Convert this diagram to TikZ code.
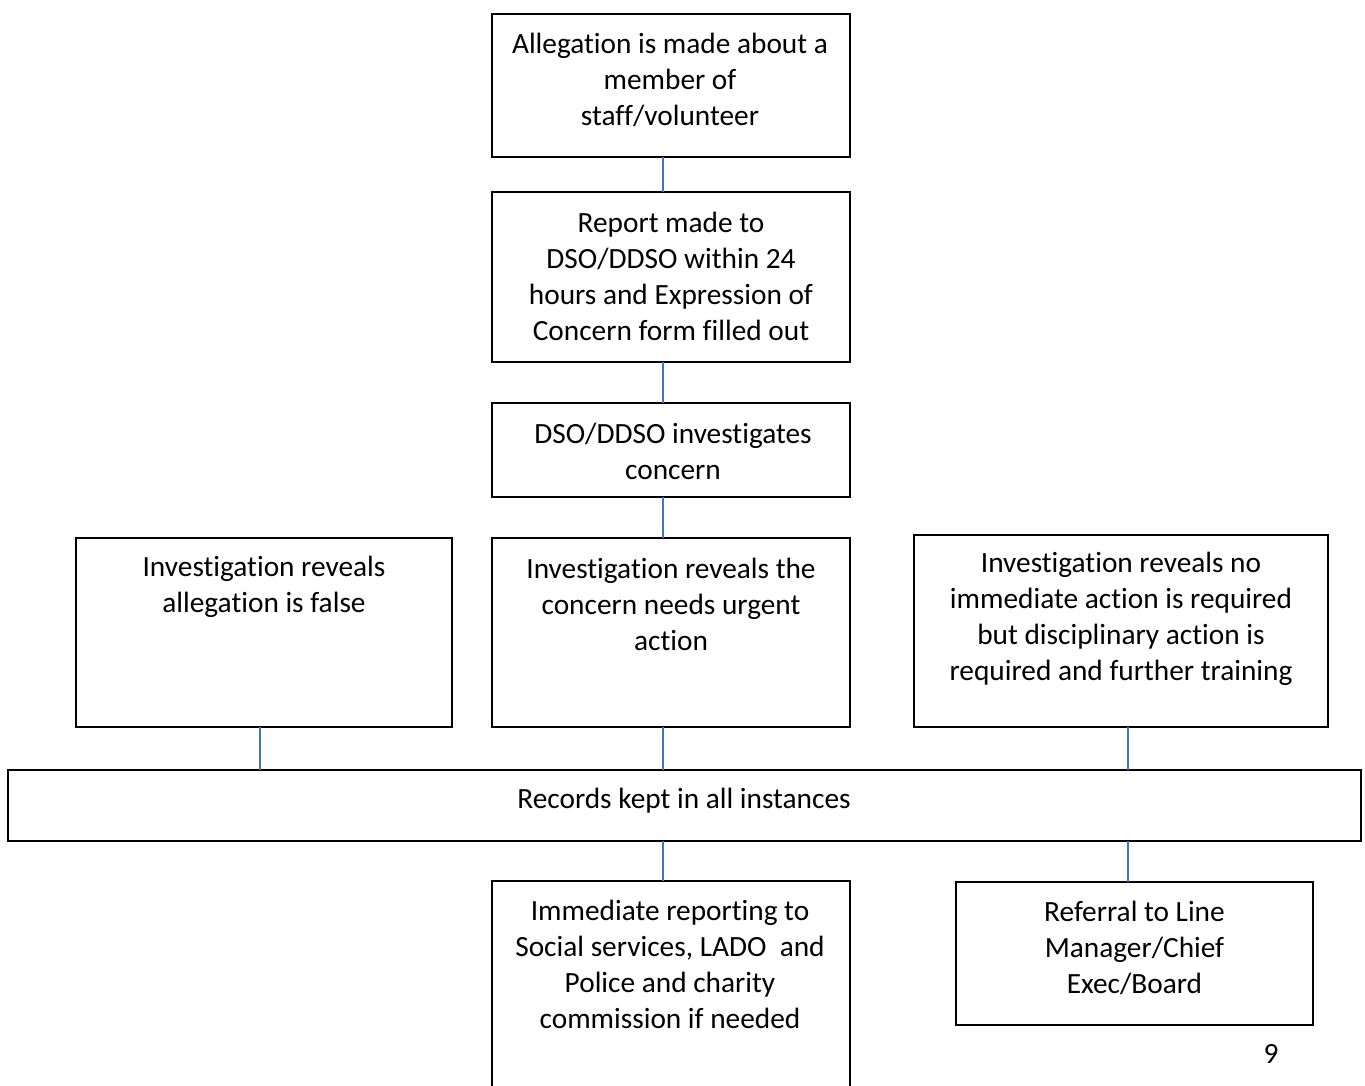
\documentclass[tikz,border=0pt]{standalone}
\usepackage{fontspec}
\setmainfont{Carlito}[Ligatures=NoCommon]
\definecolor{connblue}{HTML}{4472C4}
\begin{document}
\begin{tikzpicture}[x=0.75pt,y=-0.75pt,
  box/.style={draw=black,line width=1.1pt,inner sep=0pt,outer sep=0pt,rectangle},
  txt/.style={align=center,inner sep=0pt,font=\fontsize{22pt}{27pt}\selectfont},
  conn/.style={draw=connblue,line width=0.9pt}]
\useasboundingbox (0,0) rectangle (1365,1086);
\clip (0,0) rectangle (1365,1086);
% boxes
\node[box,minimum width=358*0.75pt,minimum height=143*0.75pt] (a) at (671,85.5) {};
\node[box,minimum width=358*0.75pt,minimum height=170*0.75pt] (b) at (671,277) {};
\node[box,minimum width=358*0.75pt,minimum height=94*0.75pt] (c) at (671,450) {};
\node[box,minimum width=376*0.75pt,minimum height=189*0.75pt] (l) at (264,632.5) {};
\node[box,minimum width=358*0.75pt,minimum height=189*0.75pt] (m) at (671,632.5) {};
\node[box,minimum width=414*0.75pt,minimum height=192*0.75pt] (r) at (1121,631) {};
\node[box,minimum width=1353*0.75pt,minimum height=71*0.75pt] (rec) at (684.5,805.5) {};
\node[box,minimum width=358*0.75pt,minimum height=214*0.75pt] (imm) at (671,988) {};
\node[box,minimum width=357*0.75pt,minimum height=143*0.75pt] (ref) at (1134.5,953.5) {};
% texts
\node[txt] (ta) at (670,80) {Allegation is made about a\\member of\\staff/volunteer};
\node[txt] (tb) at (671,276) {Report made to\\DSO/DDSO within 24\\hours and Expression of\\Concern form filled out};
\node[txt] (tc) at (673,451) {DSO/DDSO investigates\\concern};
\node[txt] (tl) at (264,587) {Investigation reveals\\allegation is false};
\node[txt] (tm) at (671,604) {Investigation reveals the\\concern needs urgent\\action};
\node[txt] (tr) at (1121,619) {Investigation reveals no\\immediate action is required\\but disciplinary action is\\required and further training};
\node[txt] (trec) at (684,801) {Records kept in all instances};
\node[txt] (timm) at (670,964) {Immediate reporting to\\Social services, LADO\ \ and\\Police and charity\\commission if needed};
\node[txt] (tref) at (1134.5,948) {Referral to Line\\Manager/Chief\\Exec/Board};
\node[txt] (pg) at (1271,1054) {9};
% connectors
\coordinate (xm) at (663,0);
\coordinate (xl) at (260,0);
\coordinate (xr) at (1128,0);
\draw[conn] (xm |- a.south) -- (xm |- b.north);
\draw[conn] (xm |- b.south) -- (xm |- c.north);
\draw[conn] (xm |- c.south) -- (xm |- m.north);
\draw[conn] (xm |- m.south) -- (xm |- rec.north);
\draw[conn] (xl |- l.south) -- (xl |- rec.north);
\draw[conn] (xr |- r.south) -- (xr |- rec.north);
\draw[conn] (xm |- rec.south) -- (xm |- imm.north);
\draw[conn] (xr |- rec.south) -- (xr |- ref.north);
\end{tikzpicture}
\end{document}
